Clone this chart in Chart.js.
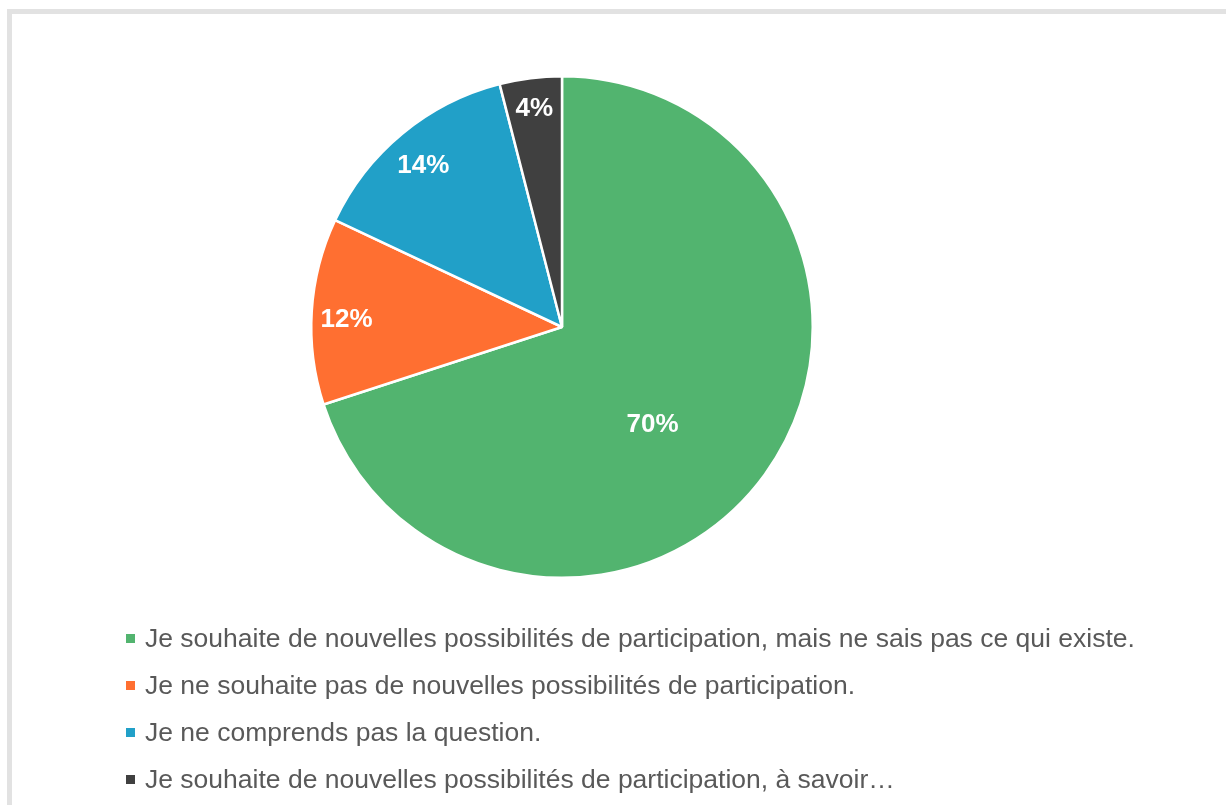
<!DOCTYPE html>
<html>
<head>
<meta charset="utf-8">
<script src="https://cdn.jsdelivr.net/npm/chart.js@4/dist/chart.umd.min.js"></script>
<style>
  body { margin: 0; background: #fff; width: 1226px; height: 805px; overflow: hidden; position: relative; }
  #frame { position: absolute; left: 7px; top: 9px; width: 1300px; height: 900px; border: 5px solid #e2e2e2; box-sizing: border-box; }
  #wrap { position: absolute; left: 0; top: 0; width: 1124px; height: 654px; }
  #legend { position: absolute; left: 126px; top: 615px; margin: 0; padding: 0; list-style: none;
            font-family: "Liberation Sans", Arial, sans-serif; font-size: 26.5px; color: #595959; }
  #legend li { height: 47px; display: flex; align-items: center; white-space: nowrap; }
  #legend span.box { display: inline-block; width: 9px; height: 9px; margin-right: 10px; }
</style>
</head>
<body>
<div id="frame"></div>
<div id="wrap"><canvas id="myChart"></canvas></div>
<ul id="legend"></ul>
<script>
// categories and values
let categories = [
    'Je souhaite de nouvelles possibilités de participation, mais ne sais pas ce qui existe.',
    'Je ne souhaite pas de nouvelles possibilités de participation.',
    'Je ne comprends pas la question.',
    'Je souhaite de nouvelles possibilités de participation, à savoir…'
];
let percents = [70, 12, 14, 4];
let colors = ['#52b46f', '#ff6f31', '#21a0c8', '#404040'];

// where each percentage label sits: fraction of radius, angle shift in degrees
let labelRadius = [0.53, 0.86, 0.85, 0.88];
let labelShift = [11, -1.5, -1, 0];

const pctLabels = {
    id: 'pctLabels',
    afterDatasetsDraw(chart) {
        const ctx = chart.ctx;
        const meta = chart.getDatasetMeta(0);
        ctx.save();
        ctx.font = 'bold 26px "Liberation Sans", Arial, sans-serif';
        ctx.fillStyle = '#ffffff';
        ctx.textAlign = 'center';
        ctx.textBaseline = 'middle';
        meta.data.forEach((arc, i) => {
            let p = arc.getProps(['x', 'y', 'startAngle', 'endAngle', 'outerRadius'], true);
            let mid = (p.startAngle + p.endAngle) / 2 + labelShift[i] * Math.PI / 180;
            let r = p.outerRadius * labelRadius[i];
            ctx.fillText(percents[i] + '%', p.x + Math.cos(mid) * r, p.y + Math.sin(mid) * r + 1);
        });
        ctx.restore();
    }
};

const data = {
    labels: categories,
    datasets: [{
        data: percents,
        backgroundColor: colors,
        borderColor: '#ffffff',
        borderWidth: 2.5
    }]
};

const config = {
    type: 'pie',
    data: data,
    options: {
        responsive: true,
        maintainAspectRatio: false,
        animation: false,
        layout: { padding: 75 },
        plugins: {
            legend: { display: false },
            tooltip: { enabled: false }
        }
    },
    plugins: [pctLabels]
};

const myChart = new Chart(document.getElementById('myChart'), config);

// html legend, one item per line
let legendEl = document.getElementById('legend');
categories.forEach((cat, i) => {
    let li = document.createElement('li');
    let box = document.createElement('span');
    box.className = 'box';
    box.style.background = colors[i];
    li.appendChild(box);
    li.appendChild(document.createTextNode(cat));
    legendEl.appendChild(li);
});
</script>
</body>
</html>
